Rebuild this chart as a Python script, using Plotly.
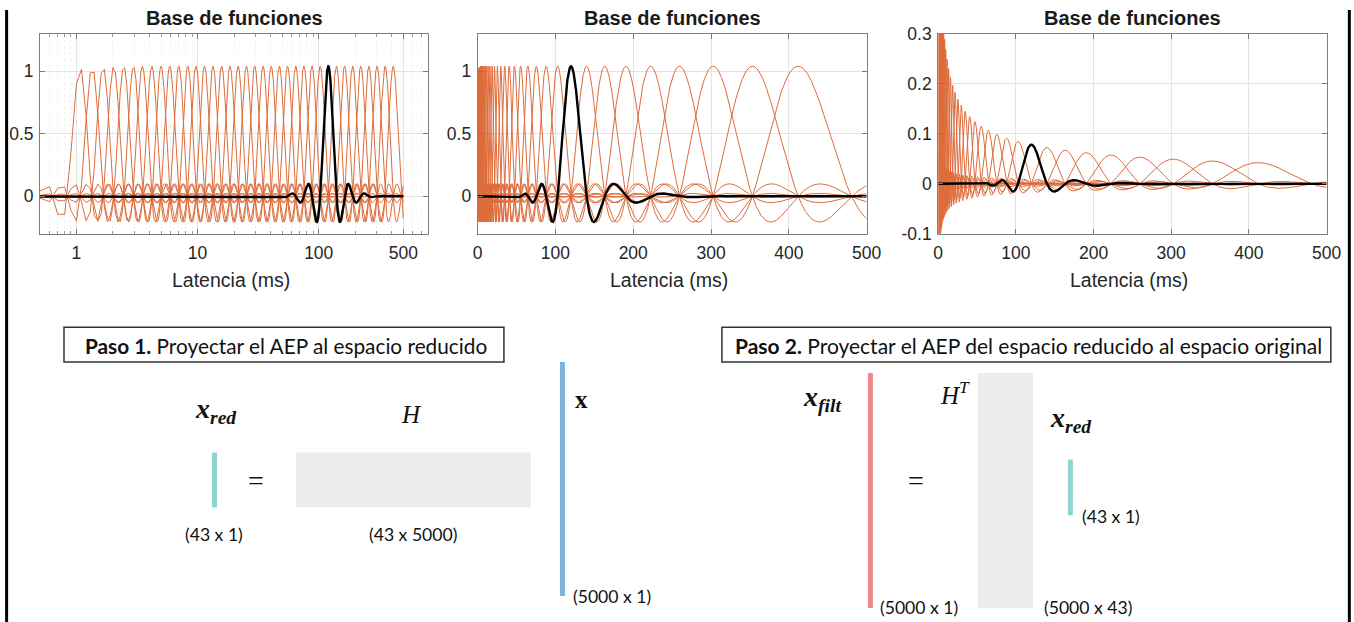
import numpy as np
import plotly.graph_objects as go

# ---- figure / placement grid ---------------------------------------------
FW, FH = 1368, 632               # figure size in px
GX0, GY0 = 5.0, 8.5              # placement grid origin
GSX, GSY = 0.9855, 0.9725        # placement grid scale

# ---- basis-function data -------------------------------------------------
# latency (ms) at which each basis function peaks
peak_latency_ms = [1.07, 1.35, 1.66, 2.03, 2.46, 2.96, 3.5, 4.2, 5.0, 5.9,
                   7.0, 8.3, 9.7, 11.4, 13.4, 15.8, 18.5, 21.6, 25.3, 29.6,
                   34.7, 40.5, 47.3, 55.3, 64.6, 75.4, 88.0, 102.8, 120.0,
                   140.0, 163.4, 190.6, 222.4, 259.5, 302.7, 353.2, 412.0]
highlight_latency_ms = 120.0     # function drawn in black
warp_offset_ms = 0.55            # time warp: log(t + offset)
peak_ratio = 1.1663              # ratio between consecutive peaks (warped)
lobe_count = 6                   # windowed-sinc half support (in spacings)
peak_height = 1.04               # height of the un-normalised functions
norm_gain = 0.86                 # gain of the normalised functions
sample_step_ms = 0.1
n_samples = 5000

t = np.arange(1, n_samples + 1) * sample_step_ms


def basis(c):
    u = (np.log(t + warp_offset_ms) - np.log(c + warp_offset_ms)) / np.log(peak_ratio)
    v = np.sinc(u) * np.sinc(u / lobe_count)
    v[np.abs(u) >= lobe_count] = 0.0
    return u, v


def stacked(scale_fn):
    xs, ys = [], []
    for c in peak_latency_ms:
        u, v = basis(c)
        idx = np.where(np.abs(u) < lobe_count)[0]
        lo, hi = max(idx[0] - 1, 0), min(idx[-1] + 2, n_samples)
        xs.append(t[lo:hi]); ys.append(v[lo:hi] * scale_fn(c))
        xs.append([np.nan]); ys.append([np.nan])
    return np.concatenate(xs), np.concatenate(ys)


raw_scale = lambda c: peak_height
norm_scale = lambda c: norm_gain / np.sqrt(c + warp_offset_ms)

ORANGE = "#D95319"
fig = go.Figure()

x_raw, y_raw = stacked(raw_scale)
x_nrm, y_nrm = stacked(norm_scale)
_, hl = basis(highlight_latency_ms)

for ax, (xo, yo), sc in [("", (x_raw, y_raw), raw_scale(highlight_latency_ms)),
                         ("2", (x_raw, y_raw), raw_scale(highlight_latency_ms)),
                         ("3", (x_nrm, y_nrm), norm_scale(highlight_latency_ms))]:
    fig.add_trace(go.Scatter(x=xo, y=yo, mode="lines", xaxis="x" + ax, yaxis="y" + ax,
                             line=dict(color=ORANGE, width=1), opacity=0.85,
                             hoverinfo="skip", showlegend=False))
    fig.add_trace(go.Scatter(x=t, y=hl * sc, mode="lines", xaxis="x" + ax, yaxis="y" + ax,
                             line=dict(color="black", width=2.4),
                             hoverinfo="skip", showlegend=False))


# ---- axes ---------------------------------------------------------------
def px(x):
    """grid column -> paper x"""
    return ((x - GX0) / GSX) / FW


def py(y):
    """grid row -> paper y"""
    return 1 - ((y - GY0) / GSY) / FH


TICKFONT = dict(family="Liberation Sans, Arial, sans-serif", size=17.5, color="#262626")
GRID = "#e4e4e4"
FRAME = "#808080"
ydom = [py(233.3), py(32.3)]
common = dict(showline=True, linecolor=FRAME, linewidth=1, mirror="ticks",
              ticks="inside", ticklen=5, tickcolor="#7a7a7a",
              showgrid=True, gridcolor=GRID, gridwidth=1, zeroline=False,
              tickfont=TICKFONT)

minor_log = [0.6, 0.7, 0.8, 0.9, 2, 3, 4, 5, 6, 7, 8, 9,
             20, 30, 40, 50, 60, 70, 80, 90, 200, 300, 400, 600, 700, 800]

XSTAND, YSTAND = 3, 2
fig.update_layout(
    width=FW, height=FH, autosize=False, margin=dict(l=0, r=0, t=0, b=0),
    paper_bgcolor="white", plot_bgcolor="white",
    xaxis=dict(domain=[px(40), px(428.3)], type="log",
               range=[np.log10(0.5), np.log10(802)],
               tickvals=[1, 10, 100, 500], ticktext=["1", "10", "100", "500"],
               minor=dict(tickvals=minor_log, showgrid=True, gridcolor="#f1f1f1",
                          griddash="dot", ticks="inside", ticklen=3, tickcolor="#9a9a9a"),
               ticklabelstandoff=XSTAND, anchor="y", **common),
    yaxis=dict(domain=ydom, range=[-0.3, 1.3], tickvals=[0, 0.5, 1],
               ticktext=["0", "0.5", "1"], ticklabelstandoff=YSTAND, anchor="x", **common),
    xaxis2=dict(domain=[px(477.7), px(866.7)], range=[0, 500], tickvals=list(range(0, 501, 100)),
                ticklabelstandoff=XSTAND, anchor="y2", **common),
    yaxis2=dict(domain=ydom, range=[-0.3, 1.3], tickvals=[0, 0.5, 1],
                ticktext=["0", "0.5", "1"], ticklabelstandoff=YSTAND, anchor="x2", **common),
    xaxis3=dict(domain=[px(938.3), px(1326.7)], range=[0, 500], tickvals=list(range(0, 501, 100)),
                ticklabelstandoff=XSTAND, anchor="y3", **common),
    yaxis3=dict(domain=ydom, range=[-0.1, 0.3], tickvals=[-0.1, 0, 0.1, 0.2, 0.3],
                ticktext=["-0.1", "0", "0.1", "0.2", "0.3"], ticklabelstandoff=YSTAND,
                anchor="x3", **common),
)

annotations = []
panel_centres = [(40 + 428.3) / 2, (477.7 + 866.7) / 2, (938.3 + 1326.7) / 2]
for cx in panel_centres:
    annotations.append(dict(x=px(cx), y=py(17), xref="paper", yref="paper",
                            text="<b>Base de funciones</b>", showarrow=False,
                            xanchor="center", yanchor="middle",
                            font=dict(family="Liberation Sans, Arial", size=20, color="#1a1a1a")))
    annotations.append(dict(x=px(cx - 3), y=py(280), xref="paper", yref="paper",
                            text="Latencia (ms)", showarrow=False,
                            xanchor="center", yanchor="middle",
                            font=dict(family="Liberation Sans, Arial", size=19.5, color="#262626")))

# ---- matrix diagram -----------------------------------------------------
TEAL, BLUE, RED, GREYFILL = "#8fd4d0", "#7fb3dc", "#f2878a", "#ececec"
SANS = "Lato, Open Sans, sans-serif"
SERIF = "Liberation Serif, DejaVu Serif, serif"


def rect(x0, y0, x1, y1, fill, line=None, lw=0):
    return dict(type="rect", xref="paper", yref="paper",
                x0=px(x0), x1=px(x1), y0=py(y1), y1=py(y0),
                fillcolor=fill, line=dict(color=line or fill, width=lw), layer="above")


shapes = [
    # outer frame sides
    dict(type="line", xref="paper", yref="paper", x0=0.0012, x1=0.0012, y0=0, y1=1,
         line=dict(color="black", width=3)),
    dict(type="line", xref="paper", yref="paper", x0=px(1349.5), x1=px(1349.5), y0=0, y1=1,
         line=dict(color="black", width=3)),
    # step boxes
    rect(64, 327, 504, 362, "rgba(0,0,0,0)", "#333333", 1.5),
    rect(722, 327, 1331, 362, "rgba(0,0,0,0)", "#333333", 1.5),
    # step 1
    rect(212, 453, 217, 508, TEAL),
    rect(296, 453, 531, 508, GREYFILL),
    rect(560, 362, 565, 597, BLUE),
    # step 2
    rect(868, 373, 873, 609, RED),
    rect(978, 373, 1033, 609, GREYFILL),
    rect(1068, 460, 1073, 516, TEAL),
]


def label(x, y, text, size, family=SANS, anchor="center", color="#111111"):
    annotations.append(dict(x=px(x), y=py(y), xref="paper", yref="paper", text=text,
                            showarrow=False, xanchor=anchor, yanchor="middle",
                            font=dict(family=family, size=size, color=color)))


label(83, 345, "<b>Paso 1.</b> Proyectar el AEP al espacio reducido", 20.8, anchor="left")
label(733, 345, "<b>Paso 2.</b> Proyectar el AEP del espacio reducido al espacio original",
      21, anchor="left")

XRED = "<b><i>x</i></b><sub><b><i>red</i></b></sub>"
label(216, 411, XRED, 28, SERIF)
label(412, 415, "<i>H</i>", 25, SERIF)
label(256, 481, "=", 28, SERIF)
label(582, 400, "<b>x</b>", 25, SERIF)
label(214, 535, "(43 x 1)", 17.6)
label(413, 535, "(43 x 5000)", 17.6)
label(612, 598, "(5000 x 1)", 17.6)

label(822, 399, "<b><i>x</i></b><sub><b><i>filt</i></b></sub>", 28, SERIF)
label(955, 393, "<i>H</i><sup><i>T</i></sup>", 25, SERIF)
label(916, 481, "=", 28, SERIF)
label(1071, 420, XRED, 28, SERIF)
label(1111, 517, "(43 x 1)", 17.6)
label(919, 609, "(5000 x 1)", 17.6)
label(1088, 609, "(5000 x 43)", 17.6)

fig.update_layout(annotations=annotations, shapes=shapes)
fig.write_html("out.html")
